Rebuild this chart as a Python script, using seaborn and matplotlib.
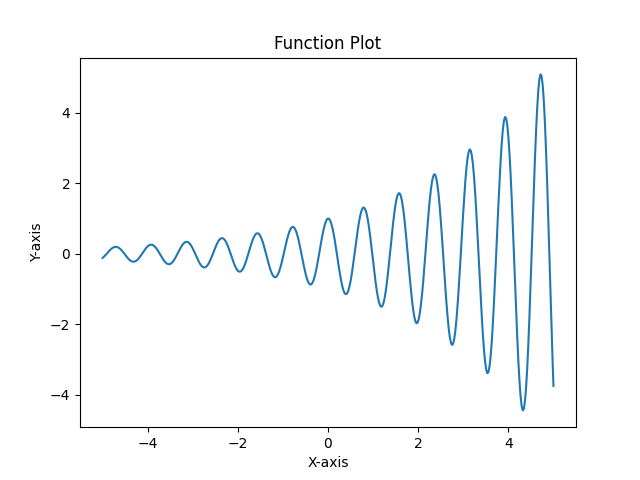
import matplotlib
matplotlib.use("Agg")
import matplotlib.pyplot as plt
import seaborn as sns
import pandas as pd

x_values = [
    -5.0,
    -4.9824, -4.9578, -4.9333, -4.9087,
    -4.8842, -4.8597, -4.8351, -4.8106, -4.7860, -4.7615, -4.7369, -4.7124, -4.6878, -4.6633, -4.6388, -4.6142, -4.5897, -4.5651, -4.5406, -4.5160,
    -4.4915, -4.4670, -4.4424, -4.4179, -4.3933, -4.3688, -4.3442, -4.3197, -4.2951, -4.2706, -4.2461, -4.2215, -4.1970, -4.1724, -4.1479, -4.1233,
    -4.0988, -4.0743, -4.0497, -4.0252, -4.0006, -3.9761, -3.9515, -3.9270, -3.9024, -3.8779, -3.8534, -3.8288, -3.8043, -3.7797, -3.7552, -3.7306,
    -3.7061, -3.6816, -3.6570, -3.6325, -3.6079, -3.5834, -3.5588, -3.5343, -3.5097, -3.4852, -3.4607, -3.4361, -3.4116, -3.3870, -3.3625, -3.3379,
    -3.3134, -3.2889, -3.2643, -3.2398, -3.2152, -3.1907, -3.1661, -3.1416, -3.1170, -3.0925, -3.0680, -3.0434, -3.0189, -2.9943, -2.9698, -2.9452,
    -2.9207, -2.8962, -2.8716, -2.8471, -2.8225, -2.7980, -2.7734, -2.7489, -2.7243, -2.6998, -2.6753, -2.6507, -2.6262, -2.6016, -2.5771, -2.5525,
    -2.5280, -2.5035, -2.4789, -2.4544, -2.4298, -2.4053, -2.3807, -2.3562, -2.3317, -2.3071, -2.2826, -2.2580, -2.2335, -2.2089, -2.1844, -2.1598,
    -2.1353, -2.1108, -2.0862, -2.0617, -2.0371, -2.0126, -1.9880, -1.9635, -1.9390, -1.9144, -1.8899, -1.8653, -1.8408, -1.8162, -1.7917, -1.7671,
    -1.7426, -1.7181, -1.6935, -1.6690, -1.6444, -1.6199, -1.5953, -1.5708, -1.5463, -1.5217, -1.4972, -1.4726, -1.4481, -1.4235, -1.3990, -1.3744,
    -1.3499, -1.3254, -1.3008, -1.2763, -1.2517, -1.2272, -1.2026, -1.1781, -1.1536, -1.1290, -1.1045, -1.0799, -1.0554, -1.0308, -1.0063, -0.9817,
    -0.9572, -0.9327, -0.9081, -0.8836, -0.8590, -0.8345, -0.8099, -0.7854, -0.7609, -0.7363, -0.7118, -0.6872, -0.6627, -0.6381, -0.6136, -0.5890,
    -0.5645, -0.5400, -0.5154, -0.4909, -0.4663, -0.4418, -0.4172, -0.3927, -0.3682, -0.3436, -0.3191, -0.2945, -0.2700, -0.2454, -0.2209, -0.1963,
    -0.1718, -0.1473, -0.1227, -0.0982, -0.0736, -0.0491, -0.0245, 0.0, 0.0245, 0.0491, 0.0736, 0.0982, 0.1227, 0.1473, 0.1718, 0.1963,
    0.2209, 0.2454, 0.2700, 0.2945, 0.3191, 0.3436, 0.3682, 0.3927, 0.4172, 0.4418, 0.4663, 0.4909, 0.5154, 0.5400, 0.5645, 0.5890,
    0.6136, 0.6381, 0.6627, 0.6872, 0.7118, 0.7363, 0.7609, 0.7854, 0.8099, 0.8345, 0.8590, 0.8836, 0.9081, 0.9327, 0.9572, 0.9817,
    1.0063, 1.0308, 1.0554, 1.0799, 1.1045, 1.1290, 1.1536, 1.1781, 1.2026, 1.2272, 1.2517, 1.2763, 1.3008, 1.3254, 1.3499, 1.3744,
    1.3990, 1.4235, 1.4481, 1.4726, 1.4972, 1.5217, 1.5463, 1.5708, 1.5953, 1.6199, 1.6444, 1.6690, 1.6935, 1.7181, 1.7426, 1.7671,
    1.7917, 1.8162, 1.8408, 1.8653, 1.8899, 1.9144, 1.9390, 1.9635, 1.9880, 2.0126, 2.0371, 2.0617, 2.0862, 2.1108, 2.1353, 2.1598,
    2.1844, 2.2089, 2.2335, 2.2580, 2.2826, 2.3071, 2.3317, 2.3562, 2.3807, 2.4053, 2.4298, 2.4544, 2.4789, 2.5035, 2.5280, 2.5525,
    2.5771, 2.6016, 2.6262, 2.6507, 2.6753, 2.6998, 2.7243, 2.7489, 2.7734, 2.7980, 2.8225, 2.8471, 2.8716, 2.8962, 2.9207, 2.9452,
    2.9698, 2.9943, 3.0189, 3.0434, 3.0680, 3.0925, 3.1170, 3.1416, 3.1661, 3.1907, 3.2152, 3.2398, 3.2643, 3.2889, 3.3134, 3.3379,
    3.3625, 3.3870, 3.4116, 3.4361, 3.4607, 3.4852, 3.5097, 3.5343, 3.5588, 3.5834, 3.6079, 3.6325, 3.6570, 3.6816, 3.7061, 3.7306,
    3.7552, 3.7797, 3.8043, 3.8288, 3.8534, 3.8779, 3.9024, 3.9270, 3.9515, 3.9761, 4.0006, 4.0252, 4.0497, 4.0743, 4.0988, 4.1233,
    4.1479, 4.1724, 4.1970, 4.2215, 4.2461, 4.2706, 4.2951, 4.3197, 4.3442, 4.3688, 4.3933, 4.4179, 4.4424, 4.4670, 4.4915, 4.5160,
    4.5406, 4.5651, 4.5897, 4.6142, 4.6388, 4.6633, 4.6878, 4.7124, 4.7369, 4.7615, 4.7860, 4.8106, 4.8351, 4.8597, 4.8842, 4.9087,
    4.9333, 4.9578, 4.9824,
    5.0,
]

y_values = [
    -0.119,
    -0.100, -0.069, -0.036, 0.0,
    0.036, 0.072, 0.105, 0.134, 0.159, 0.179, 0.191, 0.197, 0.195, 0.185, 0.168, 0.144, 0.114, 0.079, 0.041, 0.0,
    -0.041, -0.082, -0.120, -0.154, -0.183, -0.205, -0.219, -0.225, -0.223, -0.212, -0.192, -0.165, -0.131, -0.091, -0.047, 0.0,
    0.047, 0.094, 0.137, 0.176, 0.209, 0.234, 0.251, 0.258, 0.255, 0.242, 0.220, 0.189, 0.150, 0.104, 0.053, 0.0,
    -0.054, -0.107, -0.157, -0.202, -0.239, -0.268, -0.287, -0.295, -0.292, -0.278, -0.252, -0.216, -0.171, -0.119, -0.061, 0.0,
    0.062, 0.123, 0.180, 0.231, 0.274, 0.307, 0.329, 0.338, 0.335, 0.318, 0.289, 0.247, 0.196, 0.136, 0.070, 0.0,
    -0.071, -0.141, -0.206, -0.265, -0.314, -0.352, -0.377, -0.387, -0.383, -0.364, -0.330, -0.283, -0.225, -0.156, -0.080, 0.0,
    0.082, 0.161, 0.236, 0.303, 0.360, 0.403, 0.431, 0.444, 0.439, 0.417, 0.378, 0.324, 0.257, 0.179, 0.092, 0.0,
    -0.093, -0.185, -0.270, -0.347, -0.412, -0.461, -0.494, -0.508, -0.502, -0.477, -0.433, -0.372, -0.294, -0.205, -0.105, 0.0,
    0.107, 0.212, 0.310, 0.398, 0.471, 0.528, 0.566, 0.582, 0.575, 0.547, 0.496, 0.425, 0.337, 0.234, 0.120, 0.0,
    -0.122, -0.242, -0.355, -0.455, -0.540, -0.605, -0.648, -0.666, -0.659, -0.626, -0.568, -0.487, -0.386, -0.268, -0.138, 0.0,
    0.140, 0.277, 0.406, 0.521, 0.618, 0.693, 0.742, 0.763, 0.754, 0.717, 0.650, 0.558, 0.442, 0.307, 0.158, 0.0,
    -0.161, -0.318, -0.465, -0.597, -0.708, -0.793, -0.849, -0.873, -0.864, -0.821, -0.745, -0.639, -0.506, -0.352, -0.181, 0.0,
    0.184, 0.364, 0.533, 0.684, 0.811, 0.908, 0.973, 1.000, 0.989, 0.940, 0.853, 0.731, 0.580, 0.403, 0.207, 0.0,
    -0.211, -0.416, -0.610, -0.783, -0.928, -1.040, -1.114, -1.145, -1.133, -1.076, -0.977, -0.838, -0.664, -0.461, -0.237, 0.0,
    0.241, 0.477, 0.698, 0.896, 1.063, 1.191, 1.275, 1.311, 1.297, 1.232, 1.118, 0.959, 0.760, 0.528, 0.271, 0.0,
    -0.276, -0.546, -0.800, -1.026, -1.217, -1.364, -1.460, -1.501, -1.485, -1.411, -1.281, -1.098, -0.870, -0.605, -0.311, 0.0,
    0.316, 0.625, 0.916, 1.175, 1.394, 1.562, 1.672, 1.719, 1.701, 1.616, 1.466, 1.258, 0.997, 0.692, 0.356, 0.0,
    -0.362, -0.716, -1.048, -1.346, -1.596, -1.788, -1.915, -1.969, -1.947, -1.850, -1.679, -1.440, -1.141, -0.793, -0.408, 0.0,
    0.415, 0.820, 1.201, 1.541, 1.827, 2.048, 2.192, 2.254, 2.230, 2.118, 1.923, 1.649, 1.307, 0.908, 0.467, 0.0,
    -0.475, -0.939, -1.375, -1.765, -2.093, -2.345, -2.511, -2.581, -2.553, -2.426, -2.202, -1.888, -1.496, -1.039, -0.534, 0.0,
    0.544, 1.075, 1.574, 2.021, 2.396, 2.685, 2.875, 2.956, 2.924, 2.778, 2.521, 2.162, 1.713, 1.190, 0.612, 0.0,
    -0.622, -1.231, -1.803, -2.314, -2.744, -3.075, -3.292, -3.385, -3.348, -3.181, -2.887, -2.476, -1.962, -1.363, -0.701, 0.0,
    0.713, 1.410, 2.064, 2.650, 3.142, 3.521, 3.770, 3.876, 3.834, 3.642, 3.306, 2.835, 2.247, 1.561, 0.802, 0.0,
    -0.816, -1.614, -2.364, -3.034, -3.598, -4.032, -4.316, -4.438, -4.390, -4.171, -3.785, -3.247, -2.572, -1.787, -0.919, 0.0,
    0.934, 1.849, 2.707, 3.474, 4.120, 4.617, 4.943, 5.082, 5.027, 4.776, 4.335, 3.718, 2.946, 2.046, 1.052, 0.0,
    -1.070, -2.117, -3.099,
    -3.743,
]

title = "Function Plot"
x_label = "X-axis"
y_label = "Y-axis"

df = pd.DataFrame({"x": x_values, "y": y_values})

fig, ax = plt.subplots(figsize=(6.4, 4.8), dpi=100)
sns.lineplot(data=df, x="x", y="y", ax=ax, color="#1f77b4",
             linewidth=1.5, estimator=None, sort=False)
ax.set_title(title)
ax.set_xlabel(x_label)
ax.set_ylabel(y_label)
fig.savefig("out.png", dpi=100)
